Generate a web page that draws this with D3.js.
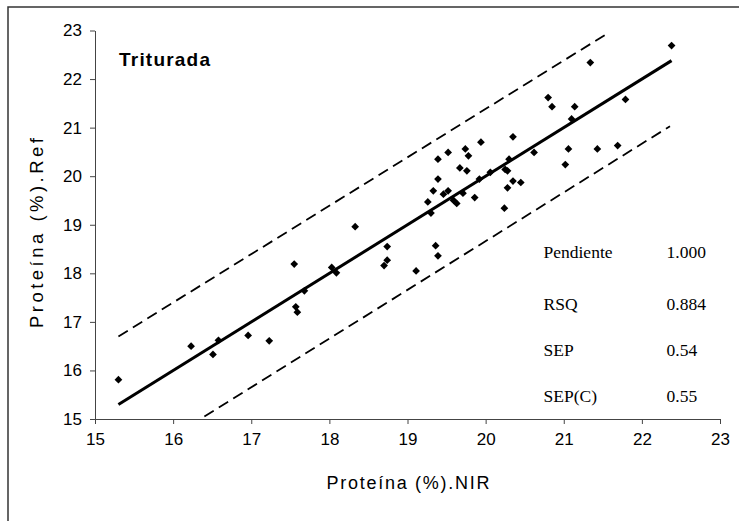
<!DOCTYPE html>
<html><head><meta charset="utf-8">
<script src="https://cdn.jsdelivr.net/npm/d3@7"></script>
<style>body{margin:0;background:#fff}svg{display:block}</style>
</head><body>
<svg id="chart" width="739" height="521"></svg>
<script>
const title = "Triturada";
const xLabel = "Proteína (%).NIR";
const yLabel = "Proteína (%).Ref";
const xTicks = [15,16,17,18,19,20,21,22,23];
const yTicks = [15,16,17,18,19,20,21,22,23];
const nirValues = [15.30,16.23,16.51,16.58,16.96,17.23,17.55,17.57,17.59,17.68,18.03,18.09,
  18.33,18.74,18.74,18.70,19.11,19.36,19.39,19.30,19.26,19.33,19.39,19.39,19.52,19.74,19.78,19.67,19.76,
  19.46,19.52,19.59,19.63,19.71,19.86,19.92,19.94,20.06,20.30,20.25,20.28,20.35,20.45,20.28,20.24,20.35,
  20.62,21.02,21.06,21.43,21.69,21.10,20.80,20.85,21.14,21.79,21.34,22.38];
const refValues = [15.81,16.50,16.33,16.62,16.72,16.61,18.19,17.31,17.20,17.64,18.12,18.01,
  18.96,18.55,18.27,18.16,18.05,18.57,18.36,19.24,19.47,19.70,19.94,20.35,20.49,20.56,20.42,20.17,20.11,
  19.63,19.70,19.50,19.44,19.65,19.56,19.94,20.70,20.08,20.35,20.14,20.11,19.90,19.87,19.76,19.34,20.81,
  20.49,20.24,20.56,20.56,20.63,21.18,21.62,21.43,21.43,21.58,22.34,22.69];
const fitLine = [[15.3,15.3],[22.38,22.38]];
const upperLimit = [[15.3,16.7],[21.57,22.95]];
const lowerLimit = [[16.4,15.05],[22.36,21.03]];
const statLabels = ["Pendiente","RSQ","SEP","SEP(C)"];
const statValues = ["1.000","0.884","0.54","0.55"];

const svg = d3.select("#chart");
const x = d3.scaleLinear().domain([15,23]).range([95,720]);
const y = d3.scaleLinear().domain([15,23]).range([419,30.5]);
const sans = "Arial, 'Liberation Sans', sans-serif";
const serif = "'Times New Roman','Liberation Serif',serif";

// outer frame
svg.append("rect").attr("x",8).attr("y",7).attr("width",760).attr("height",560)
  .attr("fill","none").attr("stroke","#333").attr("stroke-width",1.5);

const ax = svg.append("g").attr("transform",`translate(0,${y(15)})`)
  .call(d3.axisBottom(x).tickValues(xTicks).tickSize(5).tickPadding(9).tickSizeOuter(0));
const ay = svg.append("g").attr("transform",`translate(${x(15)},0)`)
  .call(d3.axisLeft(y).tickValues(yTicks).tickSize(5).tickPadding(8).tickSizeOuter(0));
[ax,ay].forEach(g=>{
  g.selectAll("path,line").attr("stroke","#444").attr("stroke-width",1);
  g.selectAll("text").attr("font-family",sans).attr("font-size",17).attr("fill","#000");
});

const line = d3.line().x(d=>x(d[0])).y(d=>y(d[1]));
svg.append("path").attr("d",line(upperLimit)).attr("fill","none").attr("stroke","#000")
  .attr("stroke-width",1.8).attr("stroke-dasharray","11,6");
svg.append("path").attr("d",line(lowerLimit)).attr("fill","none").attr("stroke","#000")
  .attr("stroke-width",1.8).attr("stroke-dasharray","11,6");
svg.append("path").attr("d",line(fitLine)).attr("fill","none").attr("stroke","#000")
  .attr("stroke-width",3);

const sym = d3.symbol(d3.symbolSquare, 30);
svg.append("g").selectAll("path").data(nirValues.map((v,i)=>[v,refValues[i]])).join("path")
  .attr("d",sym).attr("fill","#000")
  .attr("transform",d=>`translate(${x(d[0])},${y(d[1])}) rotate(45)`);

svg.append("text").attr("x",119).attr("y",65.5).text(title)
  .attr("font-family",sans).attr("font-weight","bold")
  .attr("font-size",19).attr("textLength",91).attr("lengthAdjust","spacing");

svg.append("text").attr("x",408).attr("y",489).attr("text-anchor","middle").text(xLabel)
  .attr("font-family",sans).attr("font-size",18)
  .attr("textLength",163).attr("lengthAdjust","spacing");
svg.append("text").attr("transform","translate(43,233) rotate(-90)").attr("text-anchor","middle").text(yLabel)
  .attr("font-family",sans).attr("font-size",18.5)
  .attr("textLength",190).attr("lengthAdjust","spacing");

const statY = [258.3,310,356,401.7];
statLabels.forEach((s,i)=>{
  svg.append("text").attr("x",543.5).attr("y",statY[i]).text(s)
    .attr("font-family",serif).attr("font-size",17.5);
  svg.append("text").attr("x",666.5).attr("y",statY[i]).text(statValues[i])
    .attr("font-family",serif).attr("font-size",17.5);
});
</script>
</body></html>
